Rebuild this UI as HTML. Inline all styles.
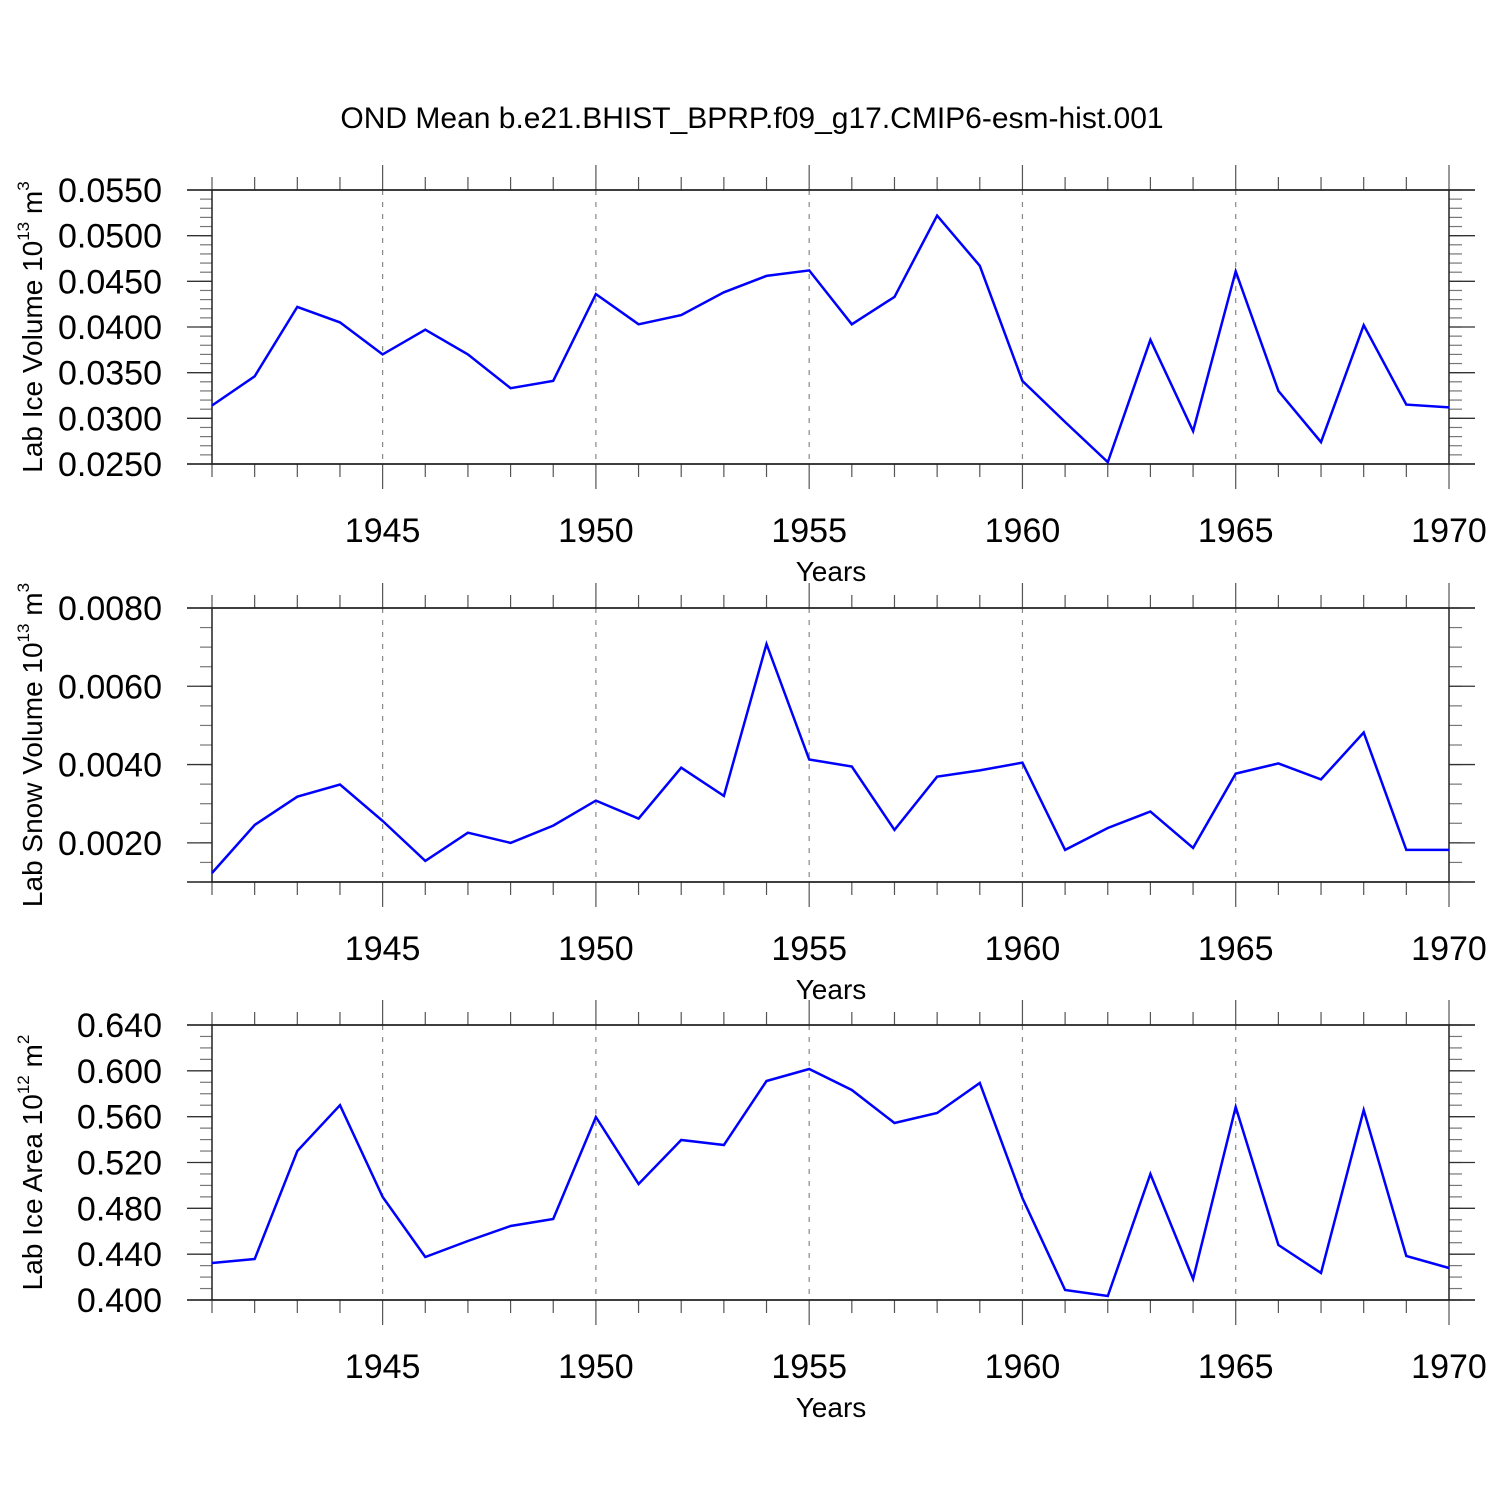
<!DOCTYPE html>
<html><head><meta charset="utf-8"><style>
html,body{margin:0;padding:0;background:#fff;}
svg{display:block;font-family:"Liberation Sans",sans-serif;}
</style></head><body>
<svg id="chart" width="1500" height="1500" xmlns="http://www.w3.org/2000/svg">
<text x="752" y="128" font-size="30" text-anchor="middle">OND Mean b.e21.BHIST_BPRP.f09_g17.CMIP6-esm-hist.001</text>
</svg>
<script>
const years = [1941,1942,1943,1944,1945,1946,1947,1948,1949,1950,1951,1952,1953,1954,1955,1956,1957,1958,1959,1960,1961,1962,1963,1964,1965,1966,1967,1968,1969,1970];
const iceVolume = [0.0314,0.0346,0.0422,0.0405,0.0370,0.0397,0.0370,0.0333,0.0341,0.0436,0.0403,0.0413,0.0438,0.0456,0.0462,0.0403,0.0433,0.0522,0.0467,0.0341,0.0296,0.0252,0.0386,0.0286,0.0461,0.0330,0.0274,0.0402,0.0315,0.0312];
const snowVolume = [0.00123,0.00246,0.00318,0.00349,0.00256,0.00154,0.00226,0.00200,0.00244,0.00308,0.00262,0.00392,0.00320,0.00708,0.00413,0.00395,0.00233,0.00369,0.00385,0.00405,0.00182,0.00238,0.00280,0.00187,0.00377,0.00403,0.00362,0.00482,0.00182,0.00182];
const iceArea = [0.4323,0.4358,0.530,0.570,0.490,0.4375,0.4515,0.4646,0.4707,0.5597,0.5012,0.5396,0.5353,0.5911,0.6016,0.5833,0.5545,0.5632,0.5894,0.489,0.4087,0.4035,0.510,0.4183,0.5684,0.448,0.4236,0.5658,0.4384,0.4279];
const xTicks = [1945,1950,1955,1960,1965,1970];
const iceVolumeTicks = ["0.0250","0.0300","0.0350","0.0400","0.0450","0.0500","0.0550"];
const snowVolumeTicks = ["0.0020","0.0040","0.0060","0.0080"];
const iceAreaTicks = ["0.400","0.440","0.480","0.520","0.560","0.600","0.640"];

const NS = "http://www.w3.org/2000/svg";
const svg = document.getElementById("chart");
const X0 = 212, X1 = 1449, XMIN = 1941, XMAX = 1970;
function xs(v){ return X0 + (v - XMIN) / (XMAX - XMIN) * (X1 - X0); }
function mk(tag, attrs, parent){
  const e = document.createElementNS(NS, tag);
  for (const k in attrs) e.setAttribute(k, attrs[k]);
  (parent || svg).appendChild(e);
  return e;
}

function panel(name, top, bottom, ymin, ymax, minorStep, ticks, data, titleMain, sup, unit){
  const g = mk("g", {});
  
  
  const ys = v => bottom - (v - ymin) / (ymax - ymin) * (bottom - top);
  xTicks.forEach(t => {
    if (t > XMIN && t < XMAX) {
      const l = mk("line", {x1: xs(t), x2: xs(t), y1: top, y2: bottom, stroke: "#888", "stroke-width": 1.2, "stroke-dasharray": "5,7"}, g);
      
      
    }
  });
  years.forEach(y => {
    const major = (y % 5 === 0);
    const len = major ? 25 : 13;
    mk("line", {x1: xs(y), x2: xs(y), y1: top - len, y2: top, stroke: "#555", "stroke-width": 1.2}, g);
    mk("line", {x1: xs(y), x2: xs(y), y1: bottom, y2: bottom + len, stroke: "#555", "stroke-width": 1.2}, g);
  });
  const nMinor = Math.round((ymax - ymin) / minorStep);
  for (let i = 0; i <= nMinor; i++) {
    const yy = ys(ymin + i * minorStep);
    mk("line", {x1: X0 - 12, x2: X0, y1: yy, y2: yy, stroke: "#777", "stroke-width": 1.2}, g);
    mk("line", {x1: X1, x2: X1 + 13, y1: yy, y2: yy, stroke: "#777", "stroke-width": 1.2}, g);
  }
  ticks.forEach(t => {
    const yy = ys(parseFloat(t));
    mk("line", {x1: X0 - 25, x2: X0, y1: yy, y2: yy, stroke: "#333", "stroke-width": 1.3}, g);
    mk("line", {x1: X1, x2: X1 + 26, y1: yy, y2: yy, stroke: "#333", "stroke-width": 1.3}, g);
    const tx = mk("text", {x: 162, y: yy + 12, "font-size": 34, "text-anchor": "end"}, g);
    tx.textContent = t;
    
    
  });
  const fr = mk("rect", {x: X0, y: top, width: X1 - X0, height: bottom - top, fill: "none", stroke: "#222", "stroke-width": 1.5}, g);
  
  
  mk("line", {x1: X0 - 25, x2: X1 + 26, y1: top, y2: top, stroke: "#222", "stroke-width": 1.5}, g);
  mk("line", {x1: X0 - 25, x2: X1 + 26, y1: bottom, y2: bottom, stroke: "#222", "stroke-width": 1.5}, g);
  xTicks.forEach(t => {
    const tx = mk("text", {x: xs(t), y: bottom + 78, "font-size": 34, "text-anchor": "middle"}, g);
    tx.textContent = t;
    
    
  });
  const xt = mk("text", {x: 831, y: bottom + 117, "font-size": 28, "text-anchor": "middle"}, g);
  xt.textContent = "Years";
  
  
  const cy = (top + bottom) / 2;
  const yt = mk("text", {x: 0, y: 0, "font-size": 28, "text-anchor": "middle", transform: "translate(42," + cy + ") rotate(-90)"}, g);
  
  
  const t1 = document.createElementNS(NS, "tspan"); t1.textContent = titleMain; yt.appendChild(t1);
  const t2 = document.createElementNS(NS, "tspan"); t2.setAttribute("dy", "-13"); t2.setAttribute("font-size", "17"); t2.textContent = sup; yt.appendChild(t2);
  const t3 = document.createElementNS(NS, "tspan"); t3.setAttribute("dy", "13"); t3.textContent = " m"; yt.appendChild(t3);
  const t4 = document.createElementNS(NS, "tspan"); t4.setAttribute("dy", "-13"); t4.setAttribute("font-size", "17"); t4.textContent = unit; yt.appendChild(t4);
  const pts = data.map((v, i) => xs(years[i]).toFixed(1) + "," + ys(v).toFixed(1)).join(" ");
  const pl = mk("polyline", {points: pts, fill: "none", stroke: "#0000ff", "stroke-width": 2.5, "stroke-linejoin": "miter"}, g);
  
  
}

panel("ice-volume", 190, 464, 0.025, 0.055, 0.001, iceVolumeTicks, iceVolume, "Lab Ice Volume 10", "13", "3");
panel("snow-volume", 608, 882, 0.001, 0.008, 0.0005, snowVolumeTicks, snowVolume, "Lab Snow Volume 10", "13", "3");
panel("ice-area", 1025, 1300, 0.40, 0.64, 0.01, iceAreaTicks, iceArea, "Lab Ice Area 10", "12", "2");
</script>
</body></html>
